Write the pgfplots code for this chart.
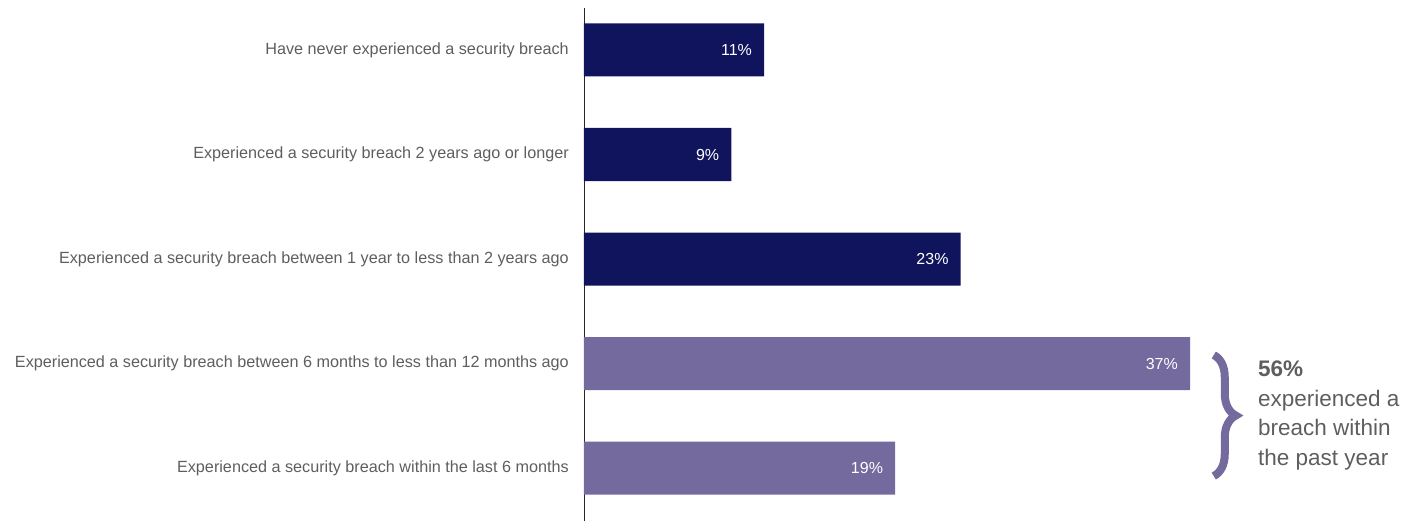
\documentclass[border=0pt]{standalone}
\usepackage{pgfplots}
\pgfplotsset{compat=1.18}
\usepackage{fontspec}
\setmainfont{Liberation Sans}
\usetikzlibrary{decorations.pathreplacing}
\definecolor{navy}{HTML}{10145C}
\definecolor{lav}{HTML}{756A9E}
\definecolor{txt}{HTML}{5E5E5E}
\begin{document}
\begin{tikzpicture}[x=1pt,y=1pt]
\path[use as bounding box] (-584,0) rectangle (835,521);
\begin{axis}[
 at={(0,0)}, anchor=south west,
 scale only axis, width=835pt, height=513pt,
 xmin=0, xmax=50.98, ymin=-0.507, ymax=4.402,
 xbar, bar width=53pt, bar shift=0pt,
 axis x line=none, axis y line=left,
 axis line style={-, black!85, line width=0.8pt},
 ytick={0,1,2,3,4},
 yticklabels={Experienced a security breach within the last 6 months,
   Experienced a security breach between 6 months to less than 12 months ago,
   Experienced a security breach between 1 year to less than 2 years ago,
   Experienced a security breach 2 years ago or longer,
   Have never experienced a security breach},
 major tick length=0pt,
 /pgf/number format/assume math mode=true,
 yticklabel style={font=\fontsize{16.2}{19}\selectfont, text=txt, inner sep=0pt, xshift=-15pt},
 nodes near coords={\pgfmathprintnumber{\pgfplotspointmeta}\%},
 nodes near coords style={anchor=east, text=white, font=\fontsize{16}{18}\selectfont, inner sep=0pt, xshift=-12pt},
 clip=false,
]
\addplot[fill=navy, draw=none] coordinates {(11,4) (9,3) (23,2)};
\addplot[fill=lav, draw=none] coordinates {(37,1) (19,0)};
\draw[lav, line width=8pt, decorate, decoration={brace, amplitude=22pt, aspect=0.5}] (axis cs:38.45,1.081) -- (axis cs:38.45,-0.077);
\node[anchor=north west, align=left, inner sep=0pt, font=\fontsize{22.5}{29.5}\selectfont, text=txt] at (axis cs:41.15,1.024) {\textbf{56\%}\\experienced a\\breach within\\the past year};
\end{axis}
\end{tikzpicture}
\end{document}
